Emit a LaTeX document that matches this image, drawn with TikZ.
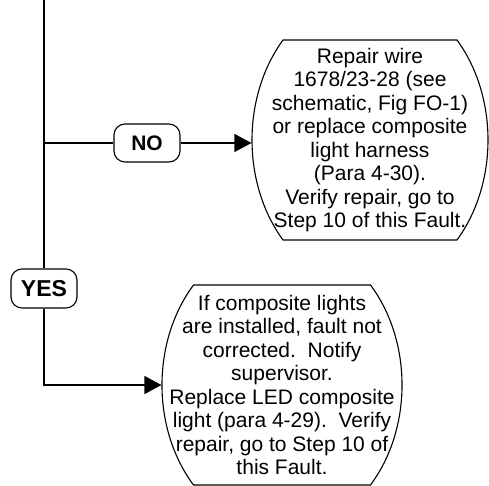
\documentclass[tikz,border=0pt]{standalone}
\usepackage{fontspec}
\setmainfont{Liberation Sans}
\usetikzlibrary{arrows.meta}
\begin{document}
\begin{tikzpicture}[x=1pt,y=-1pt,
  line width=1.1pt,
  lbl/.style={draw,rounded corners=11pt,minimum width=66pt,inner sep=0pt,
    font=\bfseries\fontsize{21}{24}\selectfont},
  stepbox/.style={inner sep=0pt,align=center,
    font=\fontsize{21}{23.5}\selectfont},
  arr/.style={-{Triangle[length=17pt,width=18pt]}}]
\useasboundingbox (0,0) rectangle (489,486);
% nodes
\node[lbl,minimum height=38pt] (no) at (147,143) {NO};
\node[lbl,minimum height=39pt,font=\bfseries\fontsize{23}{26}\selectfont] (yes) at (44,288.5) {YES};
\node[stepbox,minimum width=236pt,minimum height=200pt] (topbox) at (370,140)
  {Repair wire\\1678/23-28 (see\\schematic, Fig FO-1)\\or replace composite\\light harness\\(Para 4-30).\\Verify repair, go to\\Step 10 of this Fault.};
\node[stepbox,minimum width=240pt,minimum height=200pt] (botbox) at (282,385)
  {If composite lights\\are installed, fault not\\corrected.\ \ Notify\\supervisor.\\Replace LED composite\\light (para 4-29).\ \ Verify\\repair, go to Step 10 of\\this Fault.};
% outlines
\draw ([shift={(87,-100)}]topbox.center)
  arc[start angle=-42.5,end angle=42.5,x radius=118,y radius=148]
  -- ([shift={(-87,100)}]topbox.center)
  arc[start angle=137.5,end angle=222.5,x radius=118,y radius=148] -- cycle;
\draw ([shift={(88.5,-100)}]botbox.center)
  arc[start angle=-42.5,end angle=42.5,x radius=120,y radius=148]
  -- ([shift={(-88.5,100)}]botbox.center)
  arc[start angle=137.5,end angle=222.5,x radius=120,y radius=148] -- cycle;
% connectors
\coordinate (start) at (44,0);
\coordinate (jno) at (44,143);
\coordinate (corner) at (44,385);
\draw (start) -- (yes.north);
\draw (jno) -- (no.west);
\draw[arr] (no.east) -- (no.east -| topbox.west);
\draw[arr] (yes.south) -- (corner) -- (botbox.west);
\end{tikzpicture}
\end{document}
